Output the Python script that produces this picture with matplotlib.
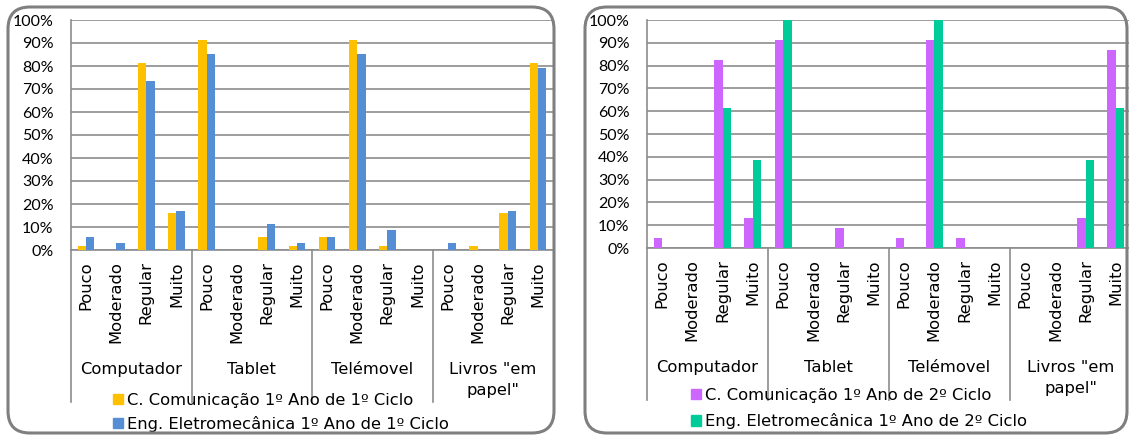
import numpy as np
import matplotlib
matplotlib.use('Agg')
from matplotlib import pyplot as plt
from matplotlib.patches import FancyBboxPatch, Patch
from matplotlib.transforms import IdentityTransform, blended_transform_factory

W, H = 1129, 436

aparelhos = ['Computador', 'Tablet', 'Telémovel', 'Livros "em\npapel"']
niveis = ['Pouco', 'Moderado', 'Regular', 'Muito']

# percentagens por aparelho: Pouco, Moderado, Regular, Muito
com_1ciclo = [1.8, 0, 81.5, 16.1,
              91.5, 0, 5.6, 1.8,
              5.6, 91.5, 1.8, 0,
              0, 1.8, 16.1, 81.5]
eng_1ciclo = [5.7, 2.9, 73.5, 17.1,
              85.0, 0, 11.4, 2.9,
              5.5, 85.0, 8.6, 0,
              2.9, 0, 17.1, 79.0]
com_2ciclo = [4.3, 0, 82.6, 13.0,
              91.3, 0, 8.7, 0,
              4.3, 91.3, 4.3, 0,
              0, 0, 13.0, 87.0]
eng_2ciclo = [0, 0, 61.5, 38.5,
              100, 0, 0, 0,
              0, 100, 0, 0,
              0, 0, 38.5, 61.5]

nomes_1 = ['C. Comunicação 1º Ano de 1º Ciclo', 'Eng. Eletromecânica 1º Ano de 1º Ciclo']
nomes_2 = ['C. Comunicação 1º Ano de 2º Ciclo', 'Eng. Eletromecânica 1º Ano de 2º Ciclo']

CINZA = '#8c8c8c'
FS = 11.8


def eixo_px(fig, x0, x1, ytop, ybot):
    return fig.add_axes([x0 / W, (H - ybot) / H, (x1 - x0) / W, (ybot - ytop) / H])


def painel(fig, ax, serie1, serie2, cor1, cor2, nomes, ytexto, ylinha, legx, legy, legesp):
    x = np.arange(len(serie1))
    w = 0.28
    ax.bar(x - w / 2, serie1, w, color=cor1, zorder=3)
    ax.bar(x + w / 2, serie2, w, color=cor2, zorder=3)
    ax.set_xlim(-0.5, 15.5)
    ax.set_ylim(0, 100)
    ax.set_yticks(range(0, 101, 10))
    ax.set_yticklabels([f'{v}%' for v in range(0, 101, 10)], fontfamily='Lato', fontsize=11.5)
    ax.yaxis.grid(True, color=CINZA, lw=1.2)
    ax.set_axisbelow(True)
    ax.tick_params(axis='y', length=0, pad=12.5)
    ax.set_xticks(x)
    ax.set_xticklabels(niveis * 4, rotation=90, fontsize=FS)
    ax.tick_params(axis='x', length=0, pad=8)
    for s in ['top', 'right']:
        ax.spines[s].set_visible(False)
    for s in ['left', 'bottom']:
        ax.spines[s].set_color(CINZA)
        ax.spines[s].set_linewidth(1.2)

    trans = blended_transform_factory(ax.transData, ax.transAxes)
    for k in range(4):
        ax.plot([k * 4 - 0.5] * 2, [0, ylinha], transform=trans, clip_on=False,
                color=CINZA, lw=1.2)
        ax.text(k * 4 + 1.5, ytexto, aparelhos[k], transform=trans, ha='center', va='top',
                fontsize=FS, linespacing=1.5)

    handles = [Patch(color=cor1, label=nomes[0]), Patch(color=cor2, label=nomes[1])]
    ax.legend(handles=handles, loc='upper left', frameon=False, fontsize=FS,
              bbox_to_anchor=(legx / W, (H - legy) / H), bbox_transform=fig.transFigure,
              borderpad=0, borderaxespad=0, handlelength=0.6, handleheight=0.6,
              handletextpad=0.25, labelspacing=legesp)


fig = plt.figure(figsize=(W / 100, H / 100), dpi=100)

ax1 = eixo_px(fig, 71, 553, 20, 250)
painel(fig, ax1, com_1ciclo, eng_1ciclo, '#FFC000', '#558ED5', nomes_1,
       -0.485, -0.661, 113, 393, 0.48)

ax2 = eixo_px(fig, 647, 1131, 20, 248)
painel(fig, ax2, com_2ciclo, eng_2ciclo, '#CC66FF', '#00CC99', nomes_2,
       -0.49, -0.667, 691, 388, 0.63)

# molduras arredondadas dos dois graficos
for x0, x1 in [(8, 554), (585, 1127)]:
    caixa = FancyBboxPatch((x0, H - 433), x1 - x0, 426,
                           boxstyle='round,pad=0,rounding_size=22',
                           fill=False, edgecolor='#7f7f7f', lw=2.2,
                           transform=IdentityTransform(), zorder=10)
    fig.add_artist(caixa)

fig.savefig('out.png', dpi=100)
